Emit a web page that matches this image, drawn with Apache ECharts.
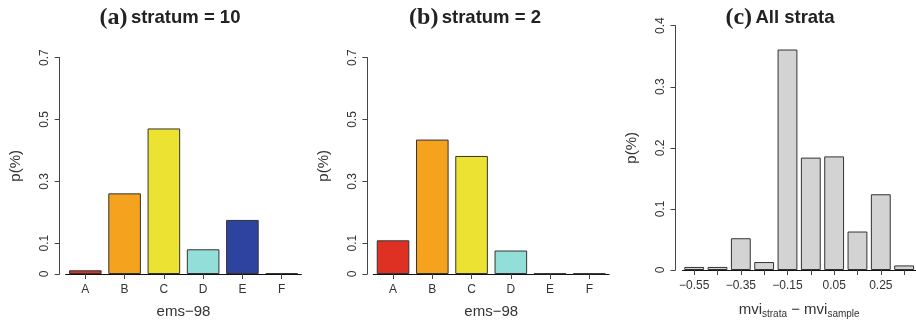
<!DOCTYPE html>
<html>
<head>
<meta charset="utf-8">
<script src="https://cdn.jsdelivr.net/npm/echarts@6/dist/echarts.min.js"></script>
<style>
  html, body { margin: 0; padding: 0; background: #fff; }
  #chart { width: 916px; height: 324px; }
</style>
</head>
<body>
<div id="chart"></div>
<script>
// ems-98 categories and proportions per stratum
const emsCategories = ['A', 'B', 'C', 'D', 'E', 'F']
const stratum10Values = [0.012, 0.261, 0.471, 0.080, 0.175, 0.003]
const stratum2Values = [0.109, 0.435, 0.382, 0.076, 0.002, 0.002]
// mvi difference bins (all strata)
const mviBins = ['−0.55', '−0.45', '−0.35', '−0.25', '−0.15', '−0.05', '0.05', '0.15', '0.25', '0.35']
const allStrataValues = [0.005, 0.005, 0.052, 0.013, 0.361, 0.184, 0.186, 0.063, 0.124, 0.0075]
const ticksAB = [0, 0.1, 0.3, 0.5, 0.7]
const ticksC = [0, 0.1, 0.2, 0.3, 0.4]

const emsColors = ['#de3124', '#f5a21f', '#ece231', '#92ded8', '#2e42a0', '#222222']
const font = 'Liberation Sans, Arial, sans-serif'
const axisColor = '#444'
const textColor = '#333'

const chart = echarts.init(document.getElementById('chart'))

function colored(values) {
  return values.map((v, i) => ({ value: v, itemStyle: { color: emsColors[i] } }))
}

function yAxisFor(gridIndex, max, ticks, offset) {
  return {
    type: 'value',
    gridIndex: gridIndex,
    min: 0,
    max: max,
    offset: offset,
    name: 'p(%)',
    nameLocation: 'middle',
    nameGap: 36,
    nameTextStyle: { fontFamily: font, fontSize: 15, color: textColor },
    axisLine: { show: true, lineStyle: { color: axisColor, width: 1 } },
    axisTick: { show: true, length: 5, customValues: ticks, lineStyle: { color: axisColor } },
    axisLabel: {
      customValues: ticks,
      rotate: 90,
      margin: 9,
      fontFamily: font,
      fontSize: 12,
      color: textColor,
      formatter: v => String(v)
    },
    splitLine: { show: false }
  }
}

function xAxisFor(gridIndex, data, name, labelInterval) {
  return {
    type: 'category',
    gridIndex: gridIndex,
    data: data,
    name: name,
    nameLocation: 'middle',
    nameGap: 30,
    nameTextStyle: {
      fontFamily: font, fontSize: 15, color: textColor,
      rich: { sub: { fontFamily: font, fontSize: 10, color: textColor, padding: [9, 0, 0, 0] } }
    },
    axisLine: { show: true, lineStyle: { color: '#111', width: 1.2 } },
    axisTick: { show: true, alignWithLabel: true, length: 5, interval: 0, lineStyle: { color: axisColor } },
    axisLabel: { interval: labelInterval, margin: 10, fontFamily: font, fontSize: 12, color: textColor },
    splitLine: { show: false }
  }
}

const barBorder = { borderColor: '#333', borderWidth: 1 }

chart.setOption({
  backgroundColor: '#fff',
  animation: false,
  grid: [
    { left: 65.7, top: 57.7, width: 235.6, height: 217.3 },
    { left: 373.4, top: 57.7, width: 235.6, height: 217.3 },
    { left: 682.5, top: 25.7, width: 233.3, height: 249.3 }
  ],
  xAxis: [
    xAxisFor(0, emsCategories, 'ems−98', 0),
    xAxisFor(1, emsCategories, 'ems−98', 0),
    xAxisFor(2, mviBins, 'mvi{sub|strata} − mvi{sub|sample}', 1)
  ],
  yAxis: [
    yAxisFor(0, 0.7, ticksAB, 6),
    yAxisFor(1, 0.7, ticksAB, 6),
    yAxisFor(2, 0.4, ticksC, 7)
  ],
  series: [
    { type: 'bar', xAxisIndex: 0, yAxisIndex: 0, barCategoryGap: '17%', itemStyle: barBorder, data: colored(stratum10Values) },
    { type: 'bar', xAxisIndex: 1, yAxisIndex: 1, barCategoryGap: '17%', itemStyle: barBorder, data: colored(stratum2Values) },
    { type: 'bar', xAxisIndex: 2, yAxisIndex: 2, barCategoryGap: '15%', itemStyle: { color: '#d3d3d3', borderColor: '#333', borderWidth: 1 }, data: allStrataValues }
  ],
  graphic: [
    ['(a)', 'stratum = 10', 170, 18],
    ['(b)', 'stratum = 2', 475, 18],
    ['(c)', 'All strata', 780, 18]
  ].map(t => ({
    type: 'text',
    x: t[2],
    y: t[3],
    style: {
      text: '{p|' + t[0] + '} {s|' + t[1] + '}',
      align: 'center',
      verticalAlign: 'middle',
      rich: {
        p: { fontFamily: 'Liberation Serif, DejaVu Serif, serif', fontWeight: 'bold', fontSize: 24, fill: '#222' },
        s: { fontFamily: font, fontWeight: 'bold', fontSize: 18.5, fill: '#222' }
      }
    }
  }))
})
</script>
</body>
</html>
